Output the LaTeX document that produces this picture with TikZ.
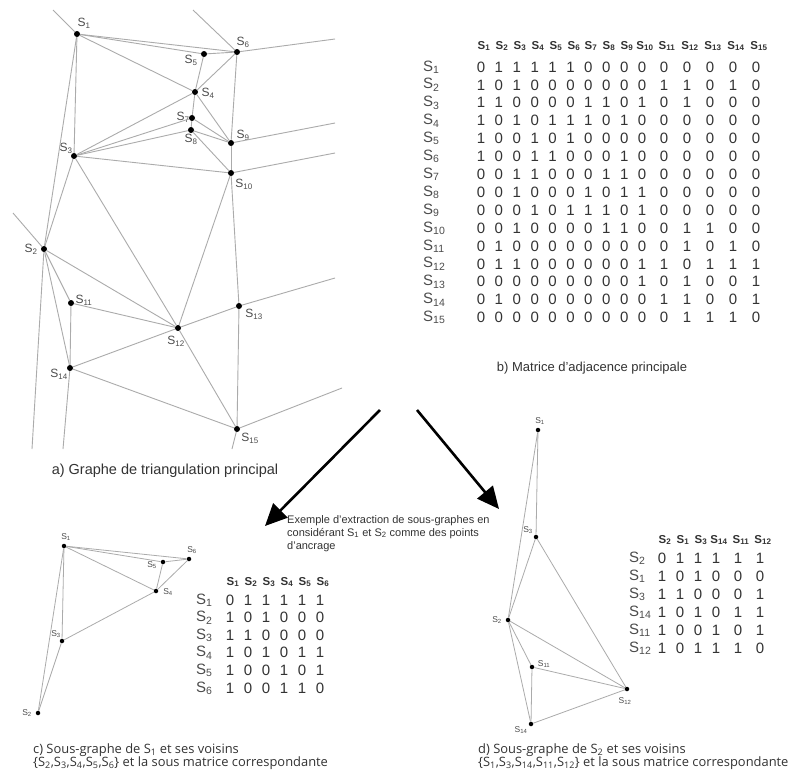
\documentclass[tikz,border=0pt]{standalone}
\usepackage{fontspec}
\setmainfont{Liberation Sans}
\newfontfamily\capfont{Open Sans}
\usetikzlibrary{arrows.meta}
\newcommand{\Sv}[1]{S\textsubscript{#1}}
\begin{document}
\begin{tikzpicture}[x=1pt,y=-1pt,
  edge/.style={draw=black!33, line width=0.9pt},
  vtx/.style={circle, fill=black, inner sep=0pt, minimum size=6pt},
  svtx/.style={circle, fill=black, inner sep=0pt, minimum size=4.5pt},
  lbl/.style={font=\fontsize{12}{12}\selectfont, text=black!70, inner sep=0pt},
  slbl/.style={font=\fontsize{8.5}{9}\selectfont, text=black!70, inner sep=0pt},
  cell/.style={font=\fontsize{15}{15}\selectfont, text=black!80, inner sep=0pt},
  scell/.style={font=\fontsize{15}{15}\selectfont, text=black!80, inner sep=0pt},
  rowlbl/.style={font=\fontsize{15}{15}\selectfont, text=black!70, inner sep=0pt, anchor=west},
  hdr/.style={font=\bfseries\fontsize{11.5}{11.5}\selectfont, text=black!80, inner sep=0pt},
  capt/.style={font=\fontsize{13}{13}\selectfont, text=black!80, inner sep=0pt},
  capc/.style={font=\capfont\fontsize{12.9}{13.5}\selectfont, text=black!80, inner sep=0pt, align=left, anchor=north west},
  bigarrow/.style={line width=2.6pt, -{Triangle[length=22pt,width=20pt]}}
]
\useasboundingbox[fill=white] (0,0) rectangle (790,774);

% ---------------- main graph ----------------
\node[vtx] (a1) at (77,34) {};
\node[vtx] (a2) at (44,249) {};
\node[vtx] (a3) at (74,156) {};
\node[vtx] (a4) at (195,92) {};
\node[vtx] (a5) at (204,54) {};
\node[vtx] (a6) at (237,52) {};
\node[vtx] (a7) at (192,118) {};
\node[vtx] (a8) at (191,130) {};
\node[vtx] (a9) at (231,143) {};
\node[vtx] (a10) at (231,173) {};
\node[vtx] (a11) at (71,303) {};
\node[vtx] (a12) at (178,328) {};
\node[vtx] (a13) at (239,306) {};
\node[vtx] (a14) at (70,368) {};
\node[vtx] (a15) at (237,429) {};

\node[lbl] (la1) at (84,23) {\Sv{1}};
\node[lbl] (la2) at (31,249) {\Sv{2}};
\node[lbl] (la3) at (66,148) {\Sv{3}};
\node[lbl] (la4) at (208,93) {\Sv{4}};
\node[lbl] (la5) at (191,60) {\Sv{5}};
\node[lbl] (la6) at (243,42) {\Sv{6}};
\node[lbl] (la7) at (183,117) {\Sv{7}};
\node[lbl] (la8) at (191,139) {\Sv{8}};
\node[lbl] (la9) at (243,135) {\Sv{9}};
\node[lbl] (la10) at (244,184) {\Sv{10}};
\node[lbl] (la11) at (84,300) {\Sv{11}};
\node[lbl] (la12) at (176,341) {\Sv{12}};
\node[lbl] (la13) at (254,314) {\Sv{13}};
\node[lbl] (la14) at (59,374) {\Sv{14}};
\node[lbl] (la15) at (250,438) {\Sv{15}};

\coordinate (e1) at (53,10);
\coordinate (e2) at (193,10);
\coordinate (e3) at (335,39);
\coordinate (e4) at (335,123);
\coordinate (e5) at (335,153);
\coordinate (e6) at (335,278);
\coordinate (e7) at (342,388);
\coordinate (e8) at (13,213);
\coordinate (e9) at (32,449);
\coordinate (e10) at (63,449);
\coordinate (e11) at (232,449);

\foreach \u/\v in {a1/a6,a1/a5,a1/a4,a1/a3,a1/a2,a5/a6,a5/a4,a6/a4,a6/a9,
  a4/a7,a4/a9,a4/a3,a7/a8,a7/a9,a7/a3,a8/a3,a8/a10,a8/a9,a9/a10,a3/a10,
  a3/a2,a3/a12,a10/a12,a10/a13,a2/a12,a2/a11,a2/a14,a11/a12,a11/a14,
  a12/a13,a12/a14,a12/a15,a13/a15,a14/a15,
  a1/e1,a6/e2,a6/e3,a9/e4,a10/e5,a13/e6,a15/e7,a2/e8,a2/e9,a14/e10,a15/e11}
  \draw[edge] (\u) -- (\v);

\node[capt, font=\fontsize{14.5}{14.5}\selectfont] (capa) at (165,471) {a) Graphe de triangulation principal};

% ---------------- main matrix ----------------
\foreach \c/\x in {1/481,2/499,3/517,4/535,5/553,6/571,7/588,8/606,9/624,10/642,
  11/664,12/687,13/710,14/733,15/756}
  \node[hdr] (mh\c) at (\x+3,46) {\Sv{\c}};
\foreach \r/\vals [count=\ri] in {
  1/{0,1,1,1,1,1,0,0,0,0,0,0,0,0,0},
  2/{1,0,1,0,0,0,0,0,0,0,1,1,0,1,0},
  3/{1,1,0,0,0,0,1,1,0,1,0,1,0,0,0},
  4/{1,0,1,0,1,1,1,0,1,0,0,0,0,0,0},
  5/{1,0,0,1,0,1,0,0,0,0,0,0,0,0,0},
  6/{1,0,0,1,1,0,0,0,1,0,0,0,0,0,0},
  7/{0,0,1,1,0,0,0,1,1,0,0,0,0,0,0},
  8/{0,0,1,0,0,0,1,0,1,1,0,0,0,0,0},
  9/{0,0,0,1,0,1,1,1,0,1,0,0,0,0,0},
  10/{0,0,1,0,0,0,0,1,1,0,0,1,1,0,0},
  11/{0,1,0,0,0,0,0,0,0,0,0,1,0,1,0},
  12/{0,1,1,0,0,0,0,0,0,1,1,0,1,1,1},
  13/{0,0,0,0,0,0,0,0,0,1,0,1,0,0,1},
  14/{0,1,0,0,0,0,0,0,0,0,1,1,0,0,1},
  15/{0,0,0,0,0,0,0,0,0,0,0,1,1,1,0}} {
  \pgfmathsetmacro{\yy}{67+17.9*(\ri-1)}
  \node[rowlbl] (mr\r) at (423,\yy) {\Sv{\r}};
  \foreach \v [count=\ci] in \vals {
    \pgfmathsetmacro{\xx}{\ci<11 ? 481+17.9*(\ci-1) : 664+23*(\ci-11)}
    \node[cell] (m\r-\ci) at (\xx,\yy) {\v};
  }
}
\node[capt] (capb) at (592,368) {b) Matrice d'adjacence principale};

% ---------------- arrows ----------------
\coordinate (arL0) at (380,410);
\coordinate (arL1) at (265,526);
\coordinate (arR0) at (417,410);
\coordinate (arR1) at (499,509);
\draw[bigarrow] (arL0) -- (arL1);
\draw[bigarrow] (arR0) -- (arR1);
\node[font=\fontsize{11}{13}\selectfont, text=black!80, inner sep=0pt, align=left, anchor=north west]
  (extxt) at (287,515) {Exemple d'extraction de sous-graphes en\\considérant \Sv{1} et \Sv{2} comme des points\\d'ancrage};

% ---------------- sub-graph c ----------------
\node[svtx] (c1) at (64,546) {};
\node[svtx] (c2) at (38,713) {};
\node[svtx] (c3) at (62,641) {};
\node[svtx] (c4) at (156,591) {};
\node[svtx] (c5) at (163,562) {};
\node[svtx] (c6) at (189,559) {};
\node[slbl] (lc1) at (66,537) {\Sv{1}};
\node[slbl] (lc2) at (27,713) {\Sv{2}};
\node[slbl] (lc3) at (56,634) {\Sv{3}};
\node[slbl] (lc4) at (168,592) {\Sv{4}};
\node[slbl] (lc5) at (152,565) {\Sv{5}};
\node[slbl] (lc6) at (192,550) {\Sv{6}};
\foreach \u/\v in {c1/c6,c1/c5,c1/c4,c1/c3,c1/c2,c5/c6,c5/c4,c4/c6,c4/c3,c3/c2}
  \draw[edge, line width=0.8pt] (\u) -- (\v);

\foreach \c/\x in {1/230,2/248,3/266,4/284,5/302,6/320}
  \node[hdr] (ch\c) at (\x+3,582) {\Sv{\c}};
\foreach \r/\vals [count=\ri] in {
  1/{0,1,1,1,1,1},2/{1,0,1,0,0,0},3/{1,1,0,0,0,0},
  4/{1,0,1,0,1,1},5/{1,0,0,1,0,1},6/{1,0,0,1,1,0}} {
  \pgfmathsetmacro{\yy}{600+17.6*(\ri-1)}
  \node[rowlbl] (cr\r) at (196,\yy) {\Sv{\r}};
  \foreach \v [count=\ci] in \vals {
    \pgfmathsetmacro{\xx}{230+18*(\ci-1)}
    \node[scell] (cm\r-\ci) at (\xx,\yy) {\v};
  }
}
\node[capc] (capc1) at (33,743) {c) Sous-graphe de \Sv{1} et ses voisins\\\{\Sv{2},\Sv{3},\Sv{4},\Sv{5},\Sv{6}\} et la sous matrice correspondante};

% ---------------- sub-graph d ----------------
\node[svtx] (d1) at (538,430) {};
\node[svtx] (d3) at (536,537) {};
\node[svtx] (d2) at (508,620) {};
\node[svtx] (d11) at (532,667) {};
\node[svtx] (d12) at (627,689) {};
\node[svtx] (d14) at (531,724) {};
\node[slbl] (ld1) at (540,421) {\Sv{1}};
\node[slbl] (ld3) at (528,530) {\Sv{3}};
\node[slbl] (ld2) at (497,620) {\Sv{2}};
\node[slbl] (ld11) at (544,664) {\Sv{11}};
\node[slbl] (ld12) at (625,701) {\Sv{12}};
\node[slbl] (ld14) at (521,730) {\Sv{14}};
\foreach \u/\v in {d1/d3,d1/d2,d3/d2,d3/d12,d2/d12,d2/d11,d2/d14,d11/d12,d11/d14,d14/d12}
  \draw[edge, line width=0.8pt] (\u) -- (\v);

\foreach \c/\lab/\x in {1/2/662,2/1/680,3/3/698,4/14/716,5/11/738,6/12/760}
  \node[hdr] (dh\c) at (\x+3,540) {\Sv{\lab}};
\foreach \r/\vals [count=\ri] in {
  2/{0,1,1,1,1,1},1/{1,0,1,0,0,0},3/{1,1,0,0,0,1},
  14/{1,0,1,0,1,1},11/{1,0,0,1,0,1},12/{1,0,1,1,1,0}} {
  \pgfmathsetmacro{\yy}{558+18*(\ri-1)}
  \node[rowlbl] (dr\r) at (629,\yy) {\Sv{\r}};
  \foreach \v [count=\ci] in \vals {
    \pgfmathsetmacro{\xx}{\ci<5 ? 662+18*(\ci-1) : 738+22*(\ci-5)}
    \node[scell] (dm\r-\ci) at (\xx,\yy) {\v};
  }
}
\node[capc] (capd1) at (478,743) {d) Sous-graphe de \Sv{2} et ses voisins\\\{\Sv{1},\Sv{3},\Sv{14},\Sv{11},\Sv{12}\} et la sous matrice correspondante};
\end{tikzpicture}
\end{document}
